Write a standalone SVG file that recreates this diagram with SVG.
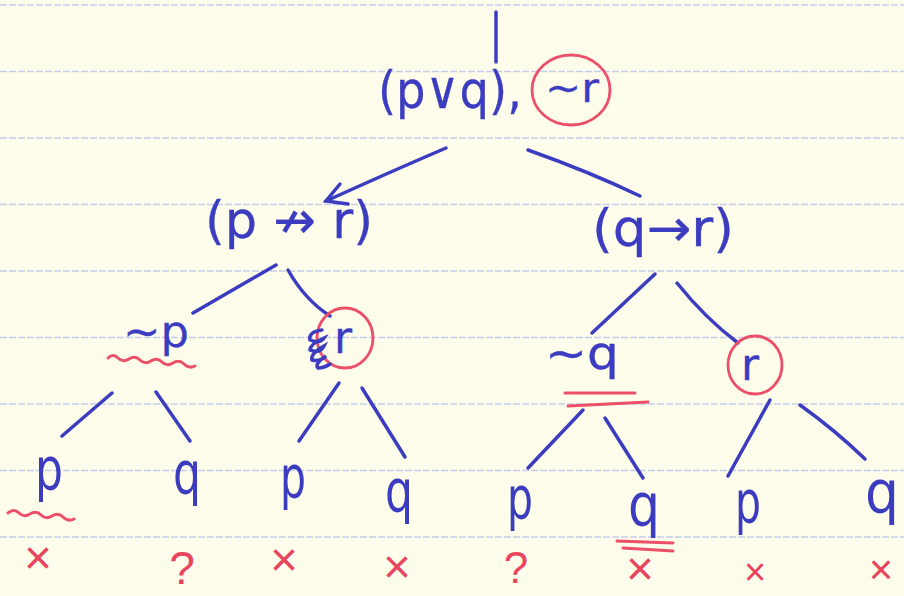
<svg xmlns="http://www.w3.org/2000/svg" width="904" height="596" viewBox="0 0 904 596">
<style>
.ink{fill:#3b3cbf;font-family:"DejaVu Sans",sans-serif;stroke:#3b3cbf;stroke-width:0.3}
.leaf{fill:#3b3cbf;font-family:"DejaVu Sans",sans-serif;font-size:58px}
.red{fill:#e8445e;font-family:"Liberation Sans",sans-serif;text-anchor:middle}
.edge{fill:none;stroke:#3b3cbf;stroke-width:3.5;stroke-linecap:round}
.rline{fill:none;stroke:#ec4f68;stroke-width:3;stroke-linecap:round}
.circ{fill:none;stroke:#ec4f68;stroke-width:2.8}
.rule{stroke:#c5cdea;stroke-width:1.6;stroke-dasharray:7 2}
</style>
<rect width="904" height="596" fill="#fefdec"/>
<g id="paper">
<line class="rule" x1="0" y1="5" x2="904" y2="5"/>
<line class="rule" x1="0" y1="71.5" x2="904" y2="71.5"/>
<line class="rule" x1="0" y1="138" x2="904" y2="138"/>
<line class="rule" x1="0" y1="204.5" x2="904" y2="204.5"/>
<line class="rule" x1="0" y1="271" x2="904" y2="271"/>
<line class="rule" x1="0" y1="337.5" x2="904" y2="337.5"/>
<line class="rule" x1="0" y1="404" x2="904" y2="404"/>
<line class="rule" x1="0" y1="470.5" x2="904" y2="470.5"/>
<line class="rule" x1="0" y1="537" x2="904" y2="537"/>
</g>
<g id="connectors">
<path class="edge" d="M496,12 L496,62"/>
<path class="edge" d="M446,148 Q390,172 326,201"/>
<path class="edge" d="M340,184 L326,201 L348,204"/>
<path class="edge" d="M528,150 Q590,172 640,196"/>
<path class="edge" d="M276,265 L193,313"/>
<path class="edge" d="M288,270 Q305,300 330,316"/>
<path class="edge" d="M655,274 L592,333"/>
<path class="edge" d="M677,283 Q705,318 738,343"/>
<path class="edge" d="M112,393 L62,436"/>
<path class="edge" d="M156,392 L190,441"/>
<path class="edge" d="M339,383 L299,441"/>
<path class="edge" d="M362,388 L405,457"/>
<path class="edge" d="M583,410 L528,468"/>
<path class="edge" d="M605,418 L643,478"/>
<path class="edge" d="M770,400 L728,476"/>
<path class="edge" d="M800,405 Q835,430 865,459"/>
</g>
<g id="root">
<text class="ink" x="378" y="108" font-size="52" textLength="144" lengthAdjust="spacingAndGlyphs">(p∨q),</text>
<ellipse class="circ" cx="571" cy="90" rx="39" ry="35"/>
<text class="ink" x="545" y="102" font-size="40" textLength="54" lengthAdjust="spacingAndGlyphs">~r</text>
</g>
<g id="left-child">
<text class="ink" x="205" y="238" font-size="52" textLength="168" lengthAdjust="spacingAndGlyphs">(p ↛ r)</text>
</g>
<g id="right-child">
<text class="ink" x="592" y="246" font-size="52" textLength="142" lengthAdjust="spacingAndGlyphs">(q→r)</text>
</g>
<g id="not-p">
<text class="ink" x="123" y="347" font-size="44" textLength="66" lengthAdjust="spacingAndGlyphs">~p</text>
<path class="rline" d="M108,358 q5,-5 10,0 t11,1 t11,1 t11,1 t11,1 t11,1 t11,1 t11,2"/>
</g>
<g id="r-left">
<ellipse class="circ" cx="345" cy="338" rx="28" ry="30"/>
<path d="M322,330 q-14,2 -12,10 q10,4 14,-2 q-14,6 -14,12 q10,4 14,-4 q-14,8 -12,14 q8,2 14,-4 q-12,8 -8,12 q6,0 12,-4" fill="none" stroke="#3b3cbf" stroke-width="3.5" stroke-linecap="round"/>
<text class="ink" x="334" y="353" font-size="44">r</text>
</g>
<g id="not-q">
<text class="ink" x="545" y="369" font-size="46" textLength="74" lengthAdjust="spacingAndGlyphs">~q</text>
<path class="rline" d="M565,393 L635,393 M568,406 L648,402"/>
</g>
<g id="r-right">
<ellipse class="circ" cx="755" cy="365" rx="27" ry="29"/>
<text class="ink" x="741" y="380" font-size="44">r</text>
</g>
<g id="leaf-1">
<text class="leaf" x="35" y="490" textLength="28" lengthAdjust="spacingAndGlyphs">p</text>
<path class="rline" d="M8,513 q6,-5 11,0 t11,1 t11,1 t11,1 t11,1 t11,2"/>
<text class="red" x="38" y="574" font-size="48">×</text>
</g>
<g id="leaf-2">
<text class="leaf" x="173" y="494" textLength="28" lengthAdjust="spacingAndGlyphs">q</text>
<text class="red" x="182" y="584" font-size="46">?</text>
</g>
<g id="leaf-3">
<text class="leaf" x="280" y="498" textLength="26" lengthAdjust="spacingAndGlyphs">p</text>
<text class="red" x="284" y="576" font-size="48">×</text>
</g>
<g id="leaf-4">
<text class="leaf" x="385" y="512" textLength="28" lengthAdjust="spacingAndGlyphs">q</text>
<text class="red" x="397" y="583" font-size="48">×</text>
</g>
<g id="leaf-5">
<text class="leaf" x="507" y="519" textLength="26" lengthAdjust="spacingAndGlyphs">p</text>
<text class="red" x="516" y="583" font-size="44">?</text>
</g>
<g id="leaf-6">
<text class="leaf" x="628" y="526" textLength="32" lengthAdjust="spacingAndGlyphs">q</text>
<path class="rline" d="M617,541 L673,543 M623,548 L673,551"/>
<text class="red" x="640" y="585" font-size="48">×</text>
</g>
<g id="leaf-7">
<text class="leaf" x="735" y="523" textLength="26" lengthAdjust="spacingAndGlyphs">p</text>
<text class="red" x="755" y="585" font-size="38">×</text>
</g>
<g id="leaf-8">
<text class="leaf" x="865" y="513" textLength="34" lengthAdjust="spacingAndGlyphs">q</text>
<text class="red" x="881" y="584" font-size="42">×</text>
</g>
</svg>
